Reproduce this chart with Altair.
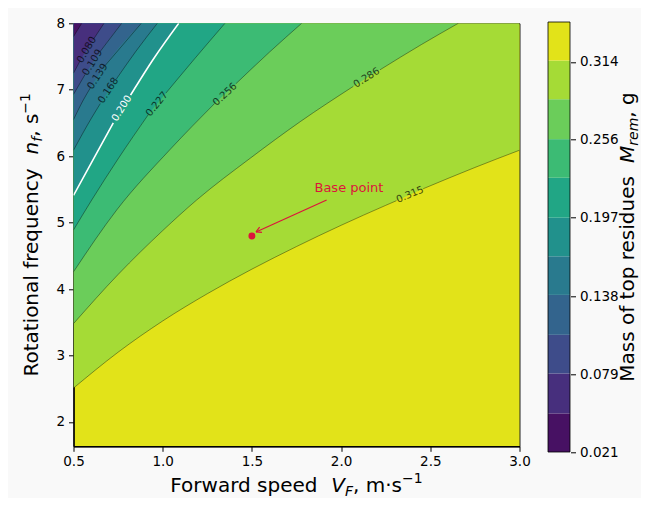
import altair as alt
import pandas as pd

# ---------------- data ----------------
levels = [0.021, 0.050, 0.080, 0.109, 0.139, 0.168, 0.197, 0.227, 0.256, 0.286, 0.315, 0.344]
band_colors = ["#471163", "#472f7d", "#3e4c8a", "#33648d", "#297a8e", "#21918c",
               "#21a685", "#3cbb74", "#6bcd5a", "#a5db36", "#e2e319"]
cbar_ticks = [0.021, 0.079, 0.138, 0.197, 0.256, 0.314]
x_ticks = [0.5, 1.0, 1.5, 2.0, 2.5, 3.0]
y_ticks = [2, 3, 4, 5, 6, 7, 8]

# contour lines (V = forward speed, n = rotational frequency); seg splits at the inline label
c050_v = [0.50, 0.546]
c050_n = [7.80, 8.00]
c050_s = [0, 0]
c080_v = [0.50, 0.536, 0.612, 0.671]
c080_n = [7.25, 7.43, 7.76, 8.00]
c080_s = [0, 0, 1, 1]
c109_v = [0.50, 0.565, 0.648, 0.770]
c109_n = [6.93, 7.23, 7.57, 8.00]
c109_s = [0, 0, 1, 1]
c139_v = [0.50, 0.555, 0.595, 0.676, 0.880]
c139_n = [6.55, 6.845, 7.03, 7.36, 8.00]
c139_s = [0, 0, 0, 1, 1]
c168_v = [0.50, 0.600, 0.650, 0.740, 0.850, 0.970]
c168_n = [6.09, 6.57, 6.79, 7.16, 7.58, 8.00]
c168_s = [0, 0, 0, 1, 1, 1]
c197_v = [0.50, 0.600, 0.723, 0.820, 0.950, 1.090]
c197_n = [5.41, 5.90, 6.50, 6.92, 7.47, 8.00]
c197_s = [0, 0, 0, 1, 1, 1]
c227_v = [0.50, 0.602, 0.750, 0.918, 1.018, 1.180, 1.349]
c227_n = [4.89, 5.34, 5.96, 6.62, 6.95, 7.47, 8.00]
c227_s = [0, 0, 0, 0, 1, 1, 1]
c256_v = [0.50, 0.742, 1.041, 1.290, 1.410, 1.600, 1.779]
c256_n = [4.26, 5.19, 6.10, 6.79, 7.09, 7.57, 8.00]
c256_s = [0, 0, 0, 0, 1, 1, 1]
c286_v = [0.50, 0.75, 1.00, 1.19, 1.491, 1.771, 2.068, 2.218, 2.45, 2.657]
c286_n = [3.48, 4.22, 4.88, 5.34, 5.97, 6.52, 7.05, 7.30, 7.68, 8.00]
c286_s = [0, 0, 0, 0, 0, 0, 0, 1, 1, 1]
c315_v = [0.50, 0.75, 1.00, 1.25, 1.50, 1.75, 2.00, 2.25, 2.31, 2.46, 2.75, 3.00]
c315_n = [2.51, 3.05, 3.52, 3.93, 4.30, 4.64, 4.96, 5.26, 5.33, 5.51, 5.83, 6.09]
c315_s = [0, 0, 0, 0, 0, 0, 0, 0, 0, 1, 1, 1]

lab_text = ["0.080", "0.109", "0.139", "0.168", "0.200", "0.227", "0.256", "0.286", "0.315"]
lab_v = [0.574, 0.606, 0.635, 0.695, 0.770, 0.968, 1.349, 2.143, 2.386]
lab_n = [7.60, 7.41, 7.20, 6.99, 6.72, 6.785, 6.93, 7.18, 5.42]
lab_rot = [59, 58, 57, 57, 58, 51, 43, 32, 23]
lab_white = [0, 0, 0, 0, 1, 0, 0, 0, 0]

base_v = [1.5]
base_n = [4.8]
arrow_v = [1.919, 1.523]
arrow_n = [5.34, 4.86]
note_v = [2.044]
note_n = [5.515]
note_text = "Base point"

# ---------------- layout ----------------
W, H = 446, 423
OX, OY = 73.5, 23.3          # page position of plot origin
SVG_W, SVG_H = 633, 490
X_DOMAIN = [0.5, 3.0]
Y_DOMAIN = [1.634, 8.0]
FONT = "DejaVu Sans"
RED = "#dc143c"

xs = alt.Scale(domain=X_DOMAIN, nice=False, zero=False)
ys = alt.Scale(domain=Y_DOMAIN, nice=False, zero=False)
x_axis = alt.Axis(values=x_ticks, format=".1f", labelPadding=3,
                  domain=True, domainColor="black", domainWidth=1.5)
y_axis = alt.Axis(values=y_ticks, format="d", labelPadding=4,
                  domain=True, domainColor="black", domainWidth=1.5)

curves = [
    (c050_v, c050_n, c050_s), (c080_v, c080_n, c080_s), (c109_v, c109_n, c109_s),
    (c139_v, c139_n, c139_s), (c168_v, c168_n, c168_s), (c197_v, c197_n, c197_s),
    (c227_v, c227_n, c227_s), (c256_v, c256_n, c256_s), (c286_v, c286_n, c286_s),
    (c315_v, c315_n, c315_s),
]

main_layers = []
first = True
# filled bands: area above each contour line, highest level first
for j in range(len(curves) - 1, -1, -1):
    v, n, s = curves[j]
    df = pd.DataFrame({"V": v, "n": n, "top": 8.0})
    if first:
        xe = alt.X("V:Q", scale=xs, axis=x_axis, title=None)
        ye = alt.Y("n:Q", scale=ys, axis=y_axis, title=None)
        first = False
    else:
        xe = alt.X("V:Q", scale=xs, title=None)
        ye = alt.Y("n:Q", scale=ys, title=None)
    main_layers.append(
        alt.Chart(df).mark_area(color=band_colors[j], interpolate="monotone", clip=True)
        .encode(x=xe, y=ye, y2=alt.Y2("top:Q"))
    )

# contour lines
for j, (v, n, s) in enumerate(curves):
    df = pd.DataFrame({"V": v, "n": n, "seg": s})
    if levels[j + 1] == 0.197:
        mk = alt.Chart(df).mark_line(color="white", strokeWidth=1.6, interpolate="monotone", clip=True)
    else:
        mk = alt.Chart(df).mark_line(color="black", strokeWidth=0.7, opacity=0.55,
                                     interpolate="monotone", clip=True)
    main_layers.append(mk.encode(x=alt.X("V:Q", scale=xs, title=None),
                                 y=alt.Y("n:Q", scale=ys, title=None),
                                 detail="seg:N"))

# inline labels
lab_df = pd.DataFrame({"V": lab_v, "n": lab_n, "t": lab_text,
                       "ang": [360 - a for a in lab_rot], "w": lab_white})
for white in (0, 1):
    sub = lab_df[lab_df["w"] == white]
    main_layers.append(
        alt.Chart(sub).mark_text(font=FONT, fontSize=10, align="center", baseline="middle",
                                 color="white" if white else "black",
                                 opacity=1.0 if white else 0.7)
        .encode(x=alt.X("V:Q", scale=xs, title=None), y=alt.Y("n:Q", scale=ys, title=None),
                text="t:N", angle=alt.Angle("ang:Q", scale=None))
    )

# base point annotation
main_layers.append(
    alt.Chart(pd.DataFrame({"V": arrow_v, "n": arrow_n, "o": [0, 1]}))
    .mark_line(color=RED, strokeWidth=1.2)
    .encode(x=alt.X("V:Q", scale=xs, title=None), y=alt.Y("n:Q", scale=ys, title=None), order="o:Q")
)
main_layers.append(
    alt.Chart(pd.DataFrame({"V": arrow_v[1:], "n": arrow_n[1:]}))
    .mark_point(shape="M 0 0 L 1 -0.55 M 0 0 L 1 0.55", filled=False, size=110,
                strokeWidth=1.2, color=RED, angle=336, opacity=1)
    .encode(x=alt.X("V:Q", scale=xs, title=None), y=alt.Y("n:Q", scale=ys, title=None))
)
main_layers.append(
    alt.Chart(pd.DataFrame({"V": base_v, "n": base_n}))
    .mark_circle(size=48, color=RED, opacity=1)
    .encode(x=alt.X("V:Q", scale=xs, title=None), y=alt.Y("n:Q", scale=ys, title=None))
)
main_layers.append(
    alt.Chart(pd.DataFrame({"V": note_v, "n": note_n}))
    .mark_text(text=note_text, font=FONT, fontSize=13, color=RED, align="center", baseline="middle")
    .encode(x=alt.X("V:Q", scale=xs, title=None), y=alt.Y("n:Q", scale=ys, title=None))
)

main = alt.layer(*main_layers)

# ---------------- colour bar ----------------
cb_scale = alt.Scale(domain=[levels[0], levels[-1]], range=[452 - OY, 22 - OY], nice=False, zero=False)
cb_df = pd.DataFrame({"lo": levels[:-1], "hi": levels[1:], "c": band_colors})
cb_rects = alt.Chart(cb_df).mark_rect().encode(
    x=alt.value(548 - OX), x2=alt.value(570 - OX),
    y=alt.Y("lo:Q", scale=cb_scale, title=None,
            axis=alt.Axis(orient="right", offset=51, values=cbar_ticks, format=".3f",
                          labelPadding=4, domain=False)),
    y2=alt.Y2("hi:Q"),
    color=alt.Color("c:N", scale=None),
)
cb_frame = alt.Chart(pd.DataFrame({"lo": [levels[0]], "hi": [levels[-1]]})).mark_rect(
    fillOpacity=0, stroke="black", strokeWidth=0.8
).encode(
    x=alt.value(548 - OX), x2=alt.value(570 - OX),
    y=alt.Y("lo:Q", scale=cb_scale, title=None), y2=alt.Y2("hi:Q"),
)
cbar = alt.layer(cb_rects, cb_frame)

# ---------------- composed axis titles (italic symbols, sub/superscripts) ----------------
W_EM = {' ': 0.318, ',': 0.318, '\u00b7': 0.318, '\u2212': 0.838, '1': 0.636,
        'F': 0.575, 'V': 0.684, 'M': 0.863, 'R': 0.695,
        'a': 0.613, 'c': 0.550, 'd': 0.635, 'e': 0.615, 'f': 0.352, 'g': 0.635, 'i': 0.278,
        'l': 0.278, 'm': 0.974, 'n': 0.634, 'o': 0.612, 'p': 0.635, 'q': 0.635, 'r': 0.411,
        's': 0.521, 't': 0.392, 'u': 0.634, 'w': 0.818, 'y': 0.592}
FS = 20
SUB, SUP = 0.22, -0.42


def tw(s, fs):
    return sum(W_EM.get(c, 0.6) for c in s) * fs


def compose(pieces, center, base, vertical):
    out = []
    sizes = [FS * sc for (_, _, sc, _) in pieces]
    total = sum(tw(t, sz) for (t, _, _, _), sz in zip(pieces, sizes))
    cur = 0.0
    for (t, style, sc, shift), sz in zip(pieces, sizes):
        if vertical:
            px = base + shift * FS - OX
            py = center + total / 2 - cur - OY
            ang = 270
        else:
            px = center - total / 2 + cur - OX
            py = base + shift * FS - OY
            ang = 0
        out.append(
            alt.Chart(pd.DataFrame({"k": [0]})).mark_text(
                text=t, font=FONT, fontSize=sz, fontStyle=style, align="left",
                baseline="alphabetic", angle=ang, color="black")
            .encode(x=alt.value(px), y=alt.value(py))
        )
        cur += tw(t, sz)
    return out


x_title = compose([("Forward speed  ", "normal", 1, 0), ("V", "italic", 1, 0),
                   ("F", "italic", 0.7, SUB), (", m\u00b7s", "normal", 1, 0),
                   ("\u22121", "normal", 0.7, SUP)],
                  center=OX + W / 2, base=491.5, vertical=False)
y_title = compose([("Rotational frequency  ", "normal", 1, 0), ("n", "italic", 1, 0),
                   ("f", "italic", 0.7, SUB), (", s", "normal", 1, 0),
                   ("\u22121", "normal", 0.7, SUP)],
                  center=OY + H / 2, base=38, vertical=True)
c_title = compose([("Mass of top residues  ", "normal", 1, 0), ("M", "italic", 1, 0),
                   ("rem", "italic", 0.7, SUB), (", g", "normal", 1, 0)],
                  center=237, base=634, vertical=True)

chart = alt.layer(main, cbar, *x_title, *y_title, *c_title).resolve_scale(
    y="independent", x="independent"
).properties(
    width=W, height=H,
    autosize=alt.AutoSizeParams(type="none"),
    padding={"left": OX - 8, "top": OY - 8, "right": SVG_W - (OX - 8) - W,
             "bottom": SVG_H - (OY - 8) - H},
    background="#f9f9f9",
).configure_view(
    stroke="#222222", strokeWidth=1, fill=band_colors[-1]
).configure_axis(
    grid=False, domain=False, tickColor="black", tickSize=5, tickWidth=1,
    labelColor="black", labelFont=FONT, labelFontSize=13.5,
    labelFlush=False, labelOverlap=False, labelBound=False,
)

chart.save("out.html", embed_options={"renderer": "svg", "actions": False})
